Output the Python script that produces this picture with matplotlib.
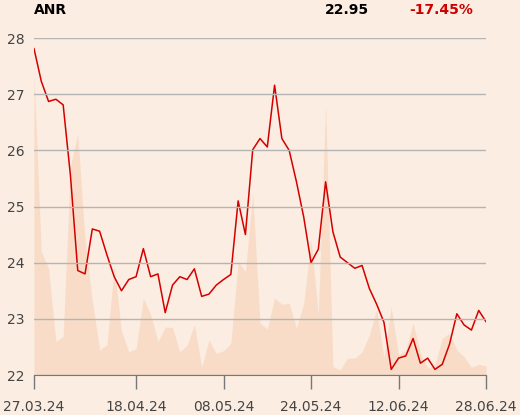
import numpy as np
from matplotlib import pyplot as plt

# Data
symbol = 'ANR'
last_price = '22.95'
change = '-17.45%'

close = [27.81, 27.23, 26.87, 26.91, 26.81, 25.55, 23.86, 23.80, 24.60, 24.56,
         24.14, 23.75, 23.50, 23.70, 23.75, 24.25, 23.75, 23.80, 23.11, 23.60,
         23.75, 23.70, 23.89, 23.40, 23.44, 23.60, 23.70, 23.79, 25.10, 24.50,
         26.01, 26.21, 26.06, 27.16, 26.21, 26.00, 25.44, 24.81, 24.00, 24.24,
         25.44, 24.55, 24.10, 24.00, 23.90, 23.95, 23.54, 23.26, 22.94, 22.10,
         22.30, 22.34, 22.65, 22.21, 22.30, 22.10, 22.19, 22.55, 23.09, 22.89,
         22.80, 23.15, 22.95]

# volume, relative units (100 = full panel height)
volume = [89, 36.6, 31.7, 9.9, 11.4, 62, 71.5, 40, 22, 7.4,
          8.9, 32, 13, 6.9, 7.8, 22.8, 18, 9.9, 14.2, 14.1,
          6.9, 8.8, 14.9, 2.3, 10.4, 6.4, 7.2, 9.4, 33.6, 30.7,
          53.9, 15.5, 13.6, 22.8, 21.0, 21.3, 13.9, 21.3, 40.1, 17.8,
          80.1, 2.5, 1.5, 5.0, 5.0, 6.8, 11.9, 19.5, 5.0, 20.1,
          5.9, 7.4, 15.5, 6.4, 2.0, 3.0, 10.9, 12.4, 7.4, 5.4,
          2.3, 3.2, 2.7]

tick_labels = ['27.03.24', '18.04.24', '08.05.24', '24.05.24', '12.06.24', '28.06.24']
tick_idx = [0, 14, 26, 38, 50, 62]
y_ticks = [22, 23, 24, 25, 26, 27, 28]

bg = '#fbede1'
x = np.arange(len(close))

fig = plt.figure(figsize=(5.2, 4.15), dpi=100, facecolor=bg)
ax = fig.add_axes([34 / 520, 1 - 375 / 415, 452 / 520, 337 / 415])
ax_v = ax.twinx()

# volume behind the price line
ax_v.fill_between(x, 0, volume, color='#f8dcc7', lw=0)
ax_v.set_ylim(0, 100)
ax_v.set_xlim(0, len(close) - 1)
ax_v.axis('off')
ax_v.set_facecolor(bg)

ax.set_zorder(ax_v.get_zorder() + 1)
ax.patch.set_visible(False)
fig.patches  # keep default

ax.plot(x, close, color='#d40000', lw=1.1)
ax.set_xlim(0, len(close) - 1)
ax.set_ylim(22, 28)
ax.set_yticks(y_ticks)
ax.set_yticklabels([str(v) for v in y_ticks], fontsize=10, color='#444444')
ax.tick_params(axis='y', length=0, pad=7)
ax.grid(axis='y', color='#b4b4b4', lw=1)
ax.set_axisbelow(False)

ax.set_xticks(tick_idx)
ax.set_xticklabels(tick_labels, fontsize=10, color='#444444')
ax.tick_params(axis='x', length=10, width=1, color='#777777', pad=8)

for side in ['top', 'right', 'left']:
    ax.spines[side].set_visible(False)
ax.spines['bottom'].set_color('#777777')

fig.text(34 / 520, 1 - 10 / 415, symbol, fontsize=10, fontweight='bold', va='center', ha='left')
fig.text(369 / 520, 1 - 10 / 415, last_price, fontsize=10, fontweight='bold', va='center', ha='right')
fig.text(473 / 520, 1 - 10 / 415, change, fontsize=10, fontweight='bold', va='center', ha='right',
         color='#cc0000')

fig.savefig('out.png', dpi=100, facecolor=bg)
